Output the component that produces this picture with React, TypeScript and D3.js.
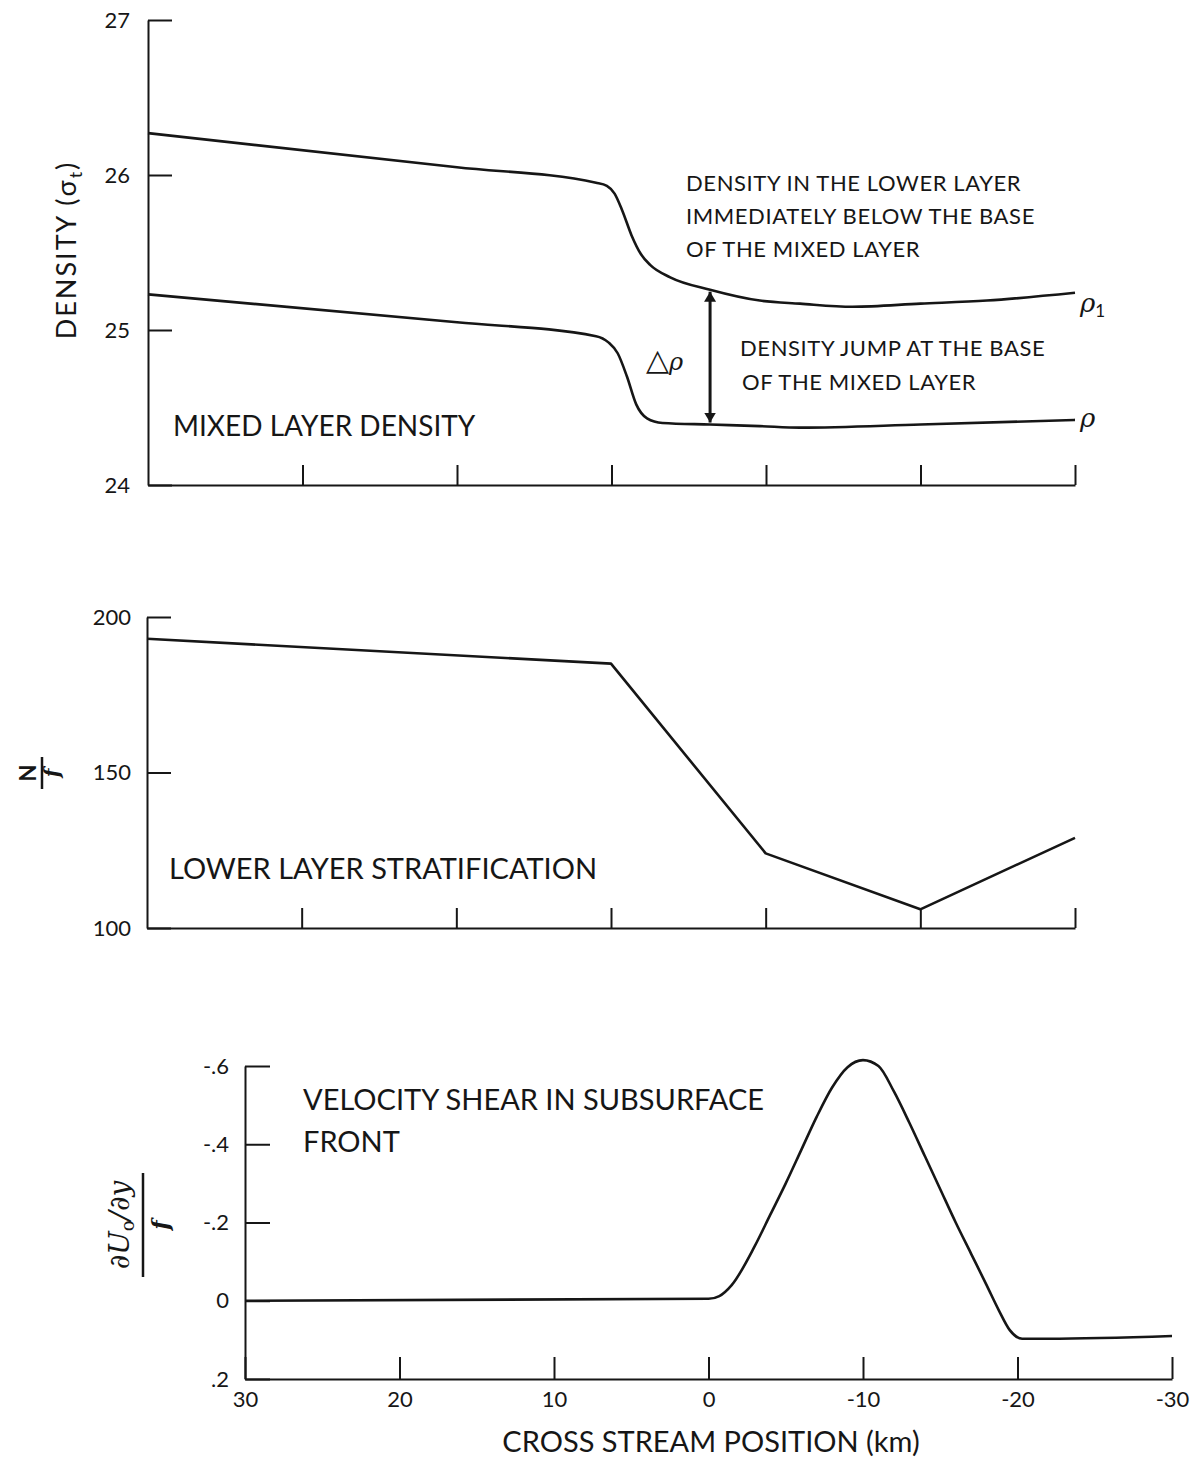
import * as d3 from "d3";
import React, { useEffect, useRef } from "react";

// top panel: density (sigma-t) vs cross stream position (km)
const lowerLayerKm = [30, 10, 1, 0.3, -0.2, -0.7, -1.3, -1.9, -2.5, -3.8, -6.38, -9.6, -12.2, -15.6, -20, -24.3, -30];
const lowerLayerDensity = [26.27, 26.05, 25.95, 25.93, 25.88, 25.77, 25.61, 25.49, 25.42, 25.34, 25.26, 25.19, 25.17, 25.15, 25.17, 25.19, 25.24];
const mixedLayerKm = [30, 10, 1, 0.2, -0.4, -1.0, -1.6, -2.3, -3.3, -6.38, -9.6, -12.2, -20, -30];
const mixedLayerDensity = [25.23, 25.05, 24.96, 24.92, 24.85, 24.7, 24.52, 24.43, 24.4, 24.39, 24.38, 24.37, 24.39, 24.42];
const jumpKm = -6.38;
const jumpTop = 25.26;
const jumpBottom = 24.39;

// middle panel: N/f
const stratKm = [30, 0, -10, -20, -30];
const stratNf = [193, 185, 124, 106, 129];

// bottom panel: velocity shear / f
const shearKm = [30, 0, -0.7, -1.5, -3, -4, -5, -6, -7, -8, -9, -10, -11, -12, -13, -14, -15, -16, -17, -18, -18.8, -19.5, -20.3, -22, -30];
const shear = [0, -0.005, -0.012, -0.04, -0.14, -0.22, -0.3, -0.385, -0.47, -0.545, -0.597, -0.615, -0.6, -0.535, -0.455, -0.37, -0.285, -0.2, -0.12, -0.04, 0.025, 0.075, 0.097, 0.097, 0.09];

const densityTicks = [27, 26, 25, 24];
const stratTicks = [200, 150, 100];
const shearTicks = [-0.6, -0.4, -0.2, 0, 0.2];
const shearTickLabels = ["-.6", "-.4", "-.2", "0", ".2"];
const kmTicks = [30, 20, 10, 0, -10, -20, -30];
const kmTickLabels = ["30", "20", "10", "0", "-10", "-20", "-30"];

const FONT = "Lato, 'DejaVu Sans', sans-serif";
const INK = "#161616";

const x1 = d3.scaleLinear().domain([30, -30]).range([148, 1075]);
const y1 = d3.scaleLinear().domain([24, 27]).range([485, 20]);
const x2 = d3.scaleLinear().domain([30, -30]).range([147, 1075]);
const y2 = d3.scaleLinear().domain([100, 200]).range([928, 617]);
const x3 = d3.scaleLinear().domain([30, -30]).range([245, 1172]);
const y3 = d3.scaleLinear().domain([0.2, -0.6]).range([1379, 1066]);

const App = () => {
  const axesRef = useRef<SVGGElement>(null);

  useEffect(() => {
    const g = d3.select(axesRef.current);
    g.selectAll("*").remove();

    const styleAxis = (sel: any) => {
      sel.selectAll("path, line").attr("stroke", INK).attr("stroke-width", 2);
      sel.selectAll("text").attr("fill", INK).style("font-family", FONT).style("font-size", "22px");
    };

    // panel 1
    g.append("g")
      .attr("transform", `translate(0,${y1(24)})`)
      .call(d3.axisBottom(x1).tickValues(kmTicks.slice(1)).tickSize(-20).tickSizeOuter(0).tickFormat(() => ""))
      .call(styleAxis);
    g.append("g")
      .attr("transform", `translate(${x1(30)},0)`)
      .call(d3.axisLeft(y1).tickValues(densityTicks).tickSize(-24).tickSizeOuter(0).tickPadding(18).tickFormat(d3.format("d")))
      .call(styleAxis);

    // panel 2
    g.append("g")
      .attr("transform", `translate(0,${y2(100)})`)
      .call(d3.axisBottom(x2).tickValues(kmTicks.slice(1)).tickSize(-20).tickSizeOuter(0).tickFormat(() => ""))
      .call(styleAxis);
    g.append("g")
      .attr("transform", `translate(${x2(30)},0)`)
      .call(d3.axisLeft(y2).tickValues(stratTicks).tickSize(-24).tickSizeOuter(0).tickPadding(16).tickFormat(d3.format("d")))
      .call(styleAxis);

    // panel 3
    g.append("g")
      .attr("transform", `translate(0,${y3(0.2)})`)
      .call(d3.axisBottom(x3).tickValues(kmTicks).tickSize(-22).tickSizeOuter(0).tickPadding(12)
        .tickFormat((d, i) => kmTickLabels[i]))
      .call(styleAxis);
    g.append("g")
      .attr("transform", `translate(${x3(30)},0)`)
      .call(d3.axisLeft(y3).tickValues(shearTicks).tickSize(-25).tickSizeOuter(0).tickPadding(16)
        .tickFormat((d, i) => shearTickLabels[i]))
      .call(styleAxis);
  }, []);

  const line1 = d3.line<number>().x((d, i) => x1(lowerLayerKm[i])).y((d) => y1(d)).curve(d3.curveMonotoneX);
  const line1b = d3.line<number>().x((d, i) => x1(mixedLayerKm[i])).y((d) => y1(d)).curve(d3.curveMonotoneX);
  const line2 = d3.line<number>().x((d, i) => x2(stratKm[i])).y((d) => y2(d));
  const line3 = d3.line<number>().x((d, i) => x3(shearKm[i])).y((d) => y3(d)).curve(d3.curveMonotoneX);

  const curveStyle = { fill: "none", stroke: INK, strokeWidth: 2.6, strokeLinejoin: "round" as const };
  const big = { fontFamily: FONT, fontSize: 29, fill: INK };
  const small = { fontFamily: FONT, fontSize: 22, fill: INK, letterSpacing: 0.6 };

  return (
    <svg width={1194} height={1457} style={{ position: "absolute", left: 0, top: 0, background: "#fff" }}>
      <defs>
        <marker id="arrowHead" viewBox="0 0 10 20" refX="10" refY="10" markerWidth="10" markerHeight="20"
          markerUnits="userSpaceOnUse" orient="auto-start-reverse">
          <path d="M0,4 L10,10 L0,16 z" fill={INK} />
        </marker>
      </defs>
      <rect width={1194} height={1457} fill="#fff" />
      <g ref={axesRef} />

      {/* panel 1 */}
      <path d={line1(lowerLayerDensity) || ""} {...curveStyle} />
      <path d={line1b(mixedLayerDensity) || ""} {...curveStyle} />
      <line x1={x1(jumpKm)} x2={x1(jumpKm)} y1={y1(jumpTop) + 2} y2={y1(jumpBottom) - 2}
        stroke={INK} strokeWidth={3} markerStart="url(#arrowHead)" markerEnd="url(#arrowHead)" />
      <text x={646} y={370} fontFamily={FONT} fontSize={30} fill={INK}>
        △<tspan fontStyle="italic" fontFamily="'DejaVu Serif', serif" fontSize={24}>ρ</tspan>
      </text>
      <text x={1080} y={312} fontFamily="'DejaVu Serif', serif" fontStyle="italic" fontSize={26} fill={INK}>
        ρ<tspan fontSize={17} dy={5} fontStyle="normal" fontFamily={FONT}>1</tspan>
      </text>
      <text x={1080} y={427} fontFamily="'DejaVu Serif', serif" fontStyle="italic" fontSize={26} fill={INK}>ρ</text>
      <text x={686} y={191} {...small}>DENSITY IN THE LOWER LAYER</text>
      <text x={686} y={224} {...small}>IMMEDIATELY BELOW THE BASE</text>
      <text x={686} y={257} {...small}>OF THE MIXED LAYER</text>
      <text x={740} y={356} {...small}>DENSITY JUMP AT THE BASE</text>
      <text x={742} y={390} {...small}>OF THE MIXED LAYER</text>
      <text x={173} y={436} {...big} fontSize={28}>MIXED LAYER DENSITY</text>
      <text transform="translate(76,250) rotate(-90)" textAnchor="middle" fontFamily={FONT} fontSize={27} fill={INK} letterSpacing={2}>
        DENSITY (σ<tspan fontSize={18} dy={6}>t</tspan><tspan dy={-6}>)</tspan>
      </text>

      {/* panel 2 */}
      <path d={line2(stratNf) || ""} {...curveStyle} />
      <text x={169} y={879} {...big}>LOWER LAYER STRATIFICATION</text>
      <g transform="translate(42,773) rotate(-90)">
        <text x={0} y={-6} textAnchor="middle" fontFamily={FONT} fontWeight="bold" fontSize={22} fill={INK}>N</text>
        <line x1={-16} x2={16} y1={0} y2={0} stroke={INK} strokeWidth={2.5} />
        <text x={0} y={17} textAnchor="middle" fontFamily="'DejaVu Serif', serif" fontStyle="italic" fontWeight="bold" fontSize={20} fill={INK}>f</text>
      </g>

      {/* panel 3 */}
      <path d={line3(shear) || ""} {...curveStyle} />
      <text x={303} y={1110} {...big}>VELOCITY SHEAR IN SUBSURFACE</text>
      <text x={303} y={1152} {...big}>FRONT</text>
      <g transform="translate(143,1225) rotate(-90)">
        <text x={0} y={-14} textAnchor="middle" fontFamily="'DejaVu Serif', serif" fontStyle="italic" fontSize={28} fill={INK}>
          ∂U<tspan fontSize={18} dy={5} fontStyle="normal">o</tspan><tspan dy={-5}>/∂y</tspan>
        </text>
        <line x1={-52} x2={52} y1={0} y2={0} stroke={INK} strokeWidth={2.5} />
        <text x={0} y={25} textAnchor="middle" fontFamily="'DejaVu Serif', serif" fontStyle="italic" fontWeight="bold" fontSize={22} fill={INK}>f</text>
      </g>
      <text x={711} y={1452} textAnchor="middle" {...big}>CROSS STREAM POSITION (km)</text>
    </svg>
  );
};

export default App;
